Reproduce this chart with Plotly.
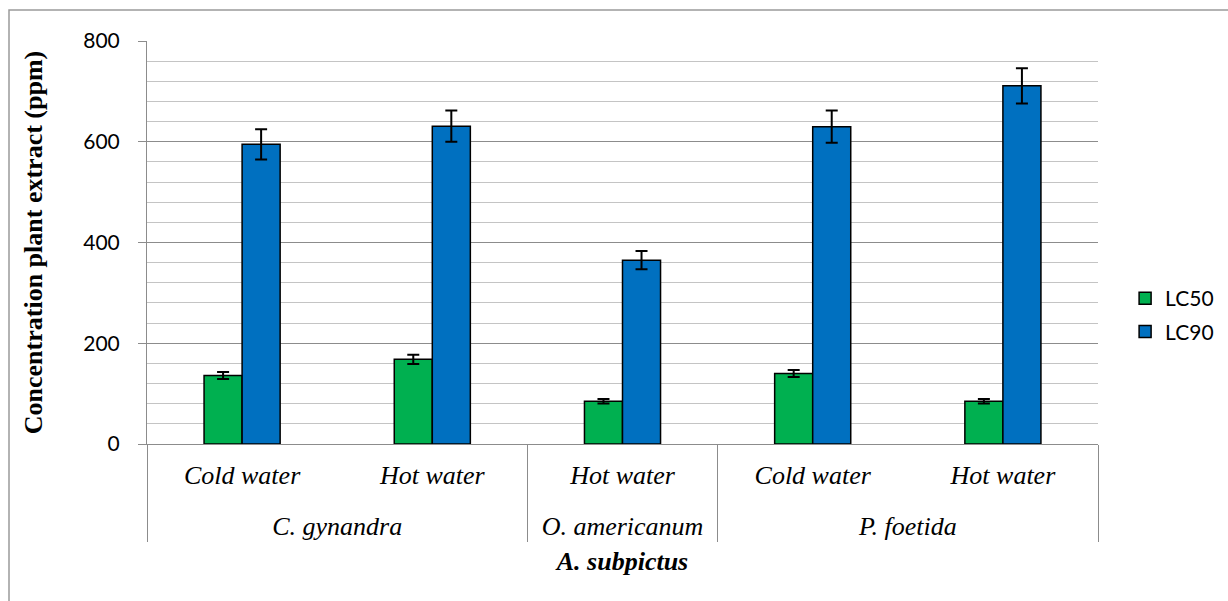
import plotly.graph_objects as go

# Two-level category axis: plant species (outer) and extract type (inner)
species = ["C. gynandra", "C. gynandra", "O. americanum", "P. foetida", "P. foetida"]
extracts = ["Cold water", "Hot water", "Hot water", "Cold water", "Hot water"]

# Lethal concentrations (ppm) with their error margins
lc50 = [136, 168, 85, 140, 85]
lc50_err = [7, 9, 4.5, 7, 4.5]
lc90 = [595, 631, 365, 630, 711]
lc90_err = [30, 31, 18, 32, 35]

y_ticks = [0, 200, 400, 600, 800]

SERIF = "Liberation Serif"
SANS = "Lato"

# Inner labels get a tiny blank second line so the species row sits lower
inner_labels = [f"{e}<br><span style='font-size:1px'>&nbsp;</span>" for e in extracts]
x_cats = [species, inner_labels]

fig = go.Figure()

fig.add_trace(go.Bar(
    name="LC50",
    x=x_cats,
    y=lc50,
    marker=dict(color="#00b050", line=dict(color="black", width=1.5)),
    error_y=dict(type="data", array=lc50_err, color="black", thickness=2, width=6),
    legendgroup="a",
))
fig.add_trace(go.Bar(
    name="LC90",
    x=x_cats,
    y=lc90,
    marker=dict(color="#0070c0", line=dict(color="black", width=1.5)),
    error_y=dict(type="data", array=lc90_err, color="black", thickness=2, width=6),
    legendgroup="b",
))

fig.update_layout(
    width=1228,
    height=601,
    autosize=False,
    margin=dict(l=147, r=130, t=41, b=157, autoexpand=False),
    paper_bgcolor="white",
    plot_bgcolor="white",
    barmode="group",
    bargap=0.6,
    bargroupgap=0,
    legend=dict(
        x=1.0285, y=0.32, xanchor="left", yanchor="middle",
        font=dict(family=SANS, size=21, color="black"),
        tracegroupgap=3,
        bgcolor="rgba(0,0,0,0)",
    ),
    showlegend=True,
)

fig.update_yaxes(
    range=[0, 800],
    tickvals=y_ticks,
    ticktext=[str(v) for v in y_ticks],
    ticks="outside",
    ticklen=8,
    tickcolor="#8c8c8c",
    ticklabelstandoff=14,
    tickfont=dict(family=SANS, size=21, color="black"),
    showgrid=True,
    gridcolor="#8c8c8c",
    gridwidth=1,
    minor=dict(dtick=40, showgrid=True, gridcolor="#c4c4c4", gridwidth=1, ticks=""),
    showline=True,
    linecolor="#8c8c8c",
    linewidth=1,
    zeroline=False,
    title=dict(
        text="Concentration plant extract (ppm)",
        font=dict(family=SERIF, size=26, color="black", weight="bold"),
        standoff=33,
    ),
)

fig.update_xaxes(
    type="multicategory",
    showline=True,
    linecolor="#8c8c8c",
    linewidth=1,
    showgrid=False,
    ticks="",
    ticklabelstandoff=8,
    showdividers=True,
    dividercolor="#8c8c8c",
    dividerwidth=1,
    tickfont=dict(family=SERIF, size=26, color="black", style="italic"),
    title=dict(
        text="A. subpictus",
        font=dict(family=SERIF, size=26, color="black", weight="bold", style="italic"),
        standoff=11,
    ),
)

# Light frame round the whole chart
fig.add_shape(
    type="rect", xref="paper", yref="paper",
    x0=(9 - 147) / 951, x1=(1232 - 147) / 951,
    y0=(444 - 605) / 403, y1=(444 - 10) / 403,
    line=dict(color="#9a9a9a", width=1.5),
    fillcolor="rgba(0,0,0,0)",
    layer="below",
)

fig.write_html("out.html")
